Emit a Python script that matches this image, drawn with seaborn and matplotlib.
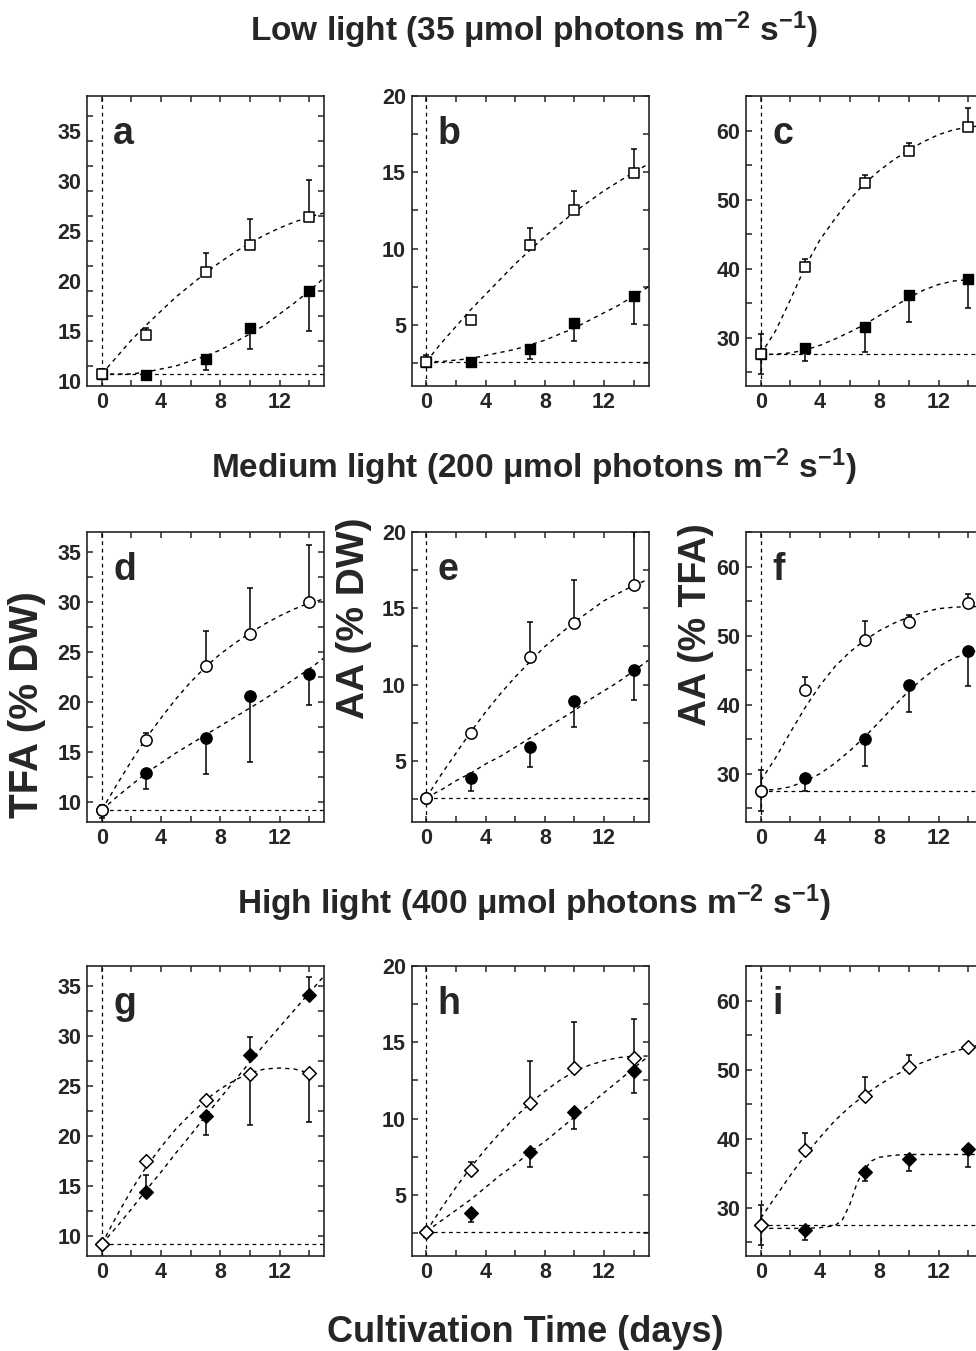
import numpy as np
import matplotlib
matplotlib.use('Agg')
import matplotlib.pyplot as plt
import matplotlib.transforms as mtransforms
from matplotlib.ticker import MultipleLocator
import seaborn as sns

# sampling days
DAYS = [0, 3, 7, 10, 14]
FIT_DAYS = [0, 1, 2, 3, 4, 5, 6, 7, 8, 9, 10, 11, 12, 13, 14, 15]

# ---- low light (squares) ----
A_OPEN = [9.2, 13.1, 19.4, 22.1, 24.9]
A_OPEN_LO = [0.4, 0, 0, 0, 0]
A_OPEN_HI = [0.5, 0.7, 1.9, 2.6, 3.7]
A_FILL = [9.2, 9.1, 10.7, 13.8, 17.5]
A_FILL_LO = [0, 0, 1.1, 2.1, 4.0]
A_FILL_HI = [0, 0, 0, 0, 0]
A_OPEN_FIT = [9.2, 10.9, 12.6, 14.1, 15.5, 16.9, 18.1, 19.3, 20.4, 21.4, 22.3, 23.1, 23.8, 24.4, 24.9, 25.3]
A_FILL_FIT = [9.2, 9.2, 9.2, 9.4, 9.7, 10.0, 10.5, 11.0, 11.6, 12.4, 13.2, 14.1, 15.2, 16.3, 17.5, 18.8]

B_OPEN = [2.6, 5.35, 10.25, 12.55, 14.95]
B_OPEN_LO = [0.3, 0, 0, 0, 0]
B_OPEN_HI = [0.4, 0.25, 1.1, 1.25, 1.55]
B_FILL = [2.6, 2.6, 3.45, 5.1, 6.9]
B_FILL_LO = [0, 0, 0.7, 1.15, 1.85]
B_FILL_HI = [0, 0, 0, 0, 0]
B_OPEN_FIT = [2.6, 3.8, 4.9, 6.0, 7.0, 8.0, 9.0, 9.9, 10.8, 11.6, 12.4, 13.1, 13.8, 14.4, 15.0, 15.55]
B_FILL_FIT = [2.6, 2.6, 2.7, 2.8, 3.0, 3.2, 3.4, 3.7, 4.0, 4.4, 4.8, 5.3, 5.8, 6.3, 6.9, 7.5]

C_OPEN = [27.6, 40.3, 52.4, 57.1, 60.5]
C_OPEN_LO = [2.9, 0, 0, 0, 0]
C_OPEN_HI = [2.9, 1.15, 1.2, 1.05, 2.8]
C_FILL = [27.6, 28.55, 31.6, 36.25, 38.45]
C_FILL_LO = [0, 2.0, 3.7, 3.95, 4.1]
C_FILL_HI = [0, 0, 0, 0, 0]
C_OPEN_FIT = [27.6, 31.0, 35.5, 40.3, 44.2, 47.2, 50.0, 52.3, 54.2, 55.8, 57.2, 58.4, 59.4, 60.1, 60.5, 60.7]
C_FILL_FIT = [27.6, 27.6, 27.8, 28.2, 28.9, 29.8, 30.8, 31.9, 33.2, 34.5, 35.8, 36.9, 37.7, 38.2, 38.4, 38.5]

# ---- medium light (circles) ----
D_OPEN = [9.2, 16.2, 23.6, 26.8, 30.0]
D_OPEN_LO = [0.8, 0, 0, 0, 0]
D_OPEN_HI = [0.5, 0.7, 3.5, 4.55, 5.7]
D_FILL = [9.2, 12.85, 16.4, 20.6, 22.75]
D_FILL_LO = [0, 1.6, 3.6, 6.65, 3.1]
D_FILL_HI = [0, 0, 0, 0, 0]
D_OPEN_FIT = [9.2, 11.7, 14.1, 16.4, 18.4, 20.3, 22.0, 23.5, 24.8, 25.9, 26.9, 27.8, 28.6, 29.3, 29.9, 30.3]
D_FILL_FIT = [9.2, 10.5, 11.7, 12.9, 13.9, 14.9, 15.8, 16.7, 17.6, 18.5, 19.4, 20.3, 21.3, 22.3, 23.3, 24.4]

E_OPEN = [2.6, 6.8, 11.8, 14.05, 16.5]
E_OPEN_LO = [0.2, 0, 0, 0, 0]
E_OPEN_HI = [0.2, 0.15, 2.3, 2.8, 3.5]
E_FILL = [2.6, 3.85, 5.9, 8.95, 10.95]
E_FILL_LO = [0, 0.8, 1.3, 1.7, 1.95]
E_FILL_HI = [0, 0, 0, 0, 0]
E_OPEN_FIT = [2.6, 4.1, 5.5, 6.9, 8.2, 9.4, 10.5, 11.5, 12.5, 13.3, 14.1, 14.8, 15.5, 16.0, 16.5, 16.9]
E_FILL_FIT = [2.6, 3.1, 3.7, 4.2, 4.8, 5.3, 5.9, 6.5, 7.1, 7.7, 8.3, 9.0, 9.6, 10.2, 10.9, 11.6]

F_OPEN = [27.5, 42.05, 49.3, 51.95, 54.7]
F_OPEN_LO = [2.9, 0, 0, 0, 0]
F_OPEN_HI = [3.0, 1.95, 2.8, 1.0, 1.35]
F_FILL = [27.5, 29.35, 35.0, 42.8, 47.75]
F_FILL_LO = [0, 1.8, 3.9, 3.9, 5.05]
F_FILL_HI = [0, 0, 0, 0, 0]
F_OPEN_FIT = [29.0, 32.3, 36.0, 39.6, 42.8, 45.5, 47.6, 49.3, 50.7, 51.8, 52.7, 53.4, 53.9, 54.1, 54.2, 54.2]
F_FILL_FIT = [27.6, 27.7, 28.1, 28.9, 30.0, 31.5, 33.3, 35.3, 37.5, 39.8, 42.0, 43.9, 45.5, 46.7, 47.5, 48.0]

# ---- high light (diamonds) ----
G_OPEN = [9.2, 17.55, 23.6, 26.25, 26.3]
G_OPEN_LO = [0.3, 0, 0, 5.1, 4.85]
G_OPEN_HI = [0.3, 0, 0, 0, 0]
G_FILL = [9.2, 14.45, 22.05, 28.1, 34.15]
G_FILL_LO = [0, 0, 1.9, 0, 0]
G_FILL_HI = [0, 1.7, 0, 1.85, 1.75]
G_OPEN_FIT = [9.2, 12.0, 14.6, 16.9, 18.9, 20.7, 22.2, 23.6, 24.7, 25.6, 26.3, 26.7, 26.8, 26.7, 26.3, np.nan]
G_FILL_FIT = [9.2, 10.9, 12.7, 14.6, 16.4, 18.3, 20.1, 22.0, 23.8, 25.6, 27.4, 29.2, 30.9, 32.6, 34.3, 36.0]

H_OPEN = [2.55, 6.65, 11.0, 13.35, 14.0]
H_OPEN_LO = [0.3, 0, 0, 0, 0]
H_OPEN_HI = [0.3, 0.5, 2.75, 3.0, 2.5]
H_FILL = [2.55, 3.85, 7.8, 10.45, 13.15]
H_FILL_LO = [0, 0.6, 1.0, 1.15, 1.45]
H_FILL_HI = [0, 0, 0, 0, 0]
H_OPEN_FIT = [2.6, 4.1, 5.5, 6.8, 8.0, 9.1, 10.1, 11.0, 11.8, 12.5, 13.1, 13.5, 13.8, 14.0, 14.1, 14.1]
H_FILL_FIT = [2.6, 3.3, 4.0, 4.7, 5.5, 6.3, 7.0, 7.8, 8.5, 9.3, 10.1, 10.9, 11.7, 12.5, 13.3, 14.1]

I_OPEN = [27.5, 38.35, 46.2, 50.35, 53.25]
I_OPEN_LO = [2.9, 0, 0, 0, 0]
I_OPEN_HI = [2.9, 2.5, 2.7, 1.8, 0.3]
I_FILL = [27.5, 26.75, 35.2, 37.1, 38.45]
I_FILL_LO = [0, 1.5, 1.3, 1.85, 2.5]
I_FILL_HI = [0, 0, 0, 0, 0]
I_OPEN_FIT = [28.5, 31.6, 34.7, 37.6, 40.2, 42.6, 44.6, 46.3, 47.8, 49.1, 50.2, 51.1, 51.9, 52.6, 53.2, 53.7]
I_FILL_FIT_DAYS = [0, 1, 2, 3, 4, 5, 5.5, 6, 6.5, 7, 7.5, 8, 9, 10, 11, 12, 13, 14, 15]
I_FILL_FIT = [27.0, 27.0, 27.0, 27.0, 27.1, 27.4, 28.2, 30.4, 33.6, 35.6, 36.8, 37.3, 37.6, 37.7, 37.7, 37.7, 37.7, 37.7, 37.7]

# day-0 level (horizontal reference line)
BASE = {'a': 9.2, 'b': 2.6, 'c': 27.6, 'd': 9.2, 'e': 2.6, 'f': 27.5, 'g': 9.2, 'h': 2.6, 'i': 27.5}

sns.set_style('ticks')
plt.rcParams['font.family'] = ['Liberation Sans', 'DejaVu Sans']
plt.rcParams['font.weight'] = 'bold'
plt.rcParams['mathtext.default'] = 'regular'
plt.rcParams['axes.linewidth'] = 1.2

W, H = 976, 1351
fig = plt.figure(figsize=(W / 100, H / 100), dpi=100)

def add_ax(left, top, w=237, h=290):
    return fig.add_axes([left / W, 1 - (top + h) / H, w / W, h / H])

dash = (0, (3, 3))

def panel(ax, letter, marker, msize, opn, opn_lo, opn_hi, fil, fil_lo, fil_hi,
          open_fit, fill_fit, ylim, major, minor, fill_fit_x=FIT_DAYS):
    ax.axvline(0, color='k', lw=0.9, linestyle=dash, zorder=1)
    ax.axhline(BASE[letter], xmin=1 / 16, color='k', lw=0.9, linestyle=dash, zorder=1)
    sns.lineplot(x=FIT_DAYS, y=open_fit, ax=ax, color='k', lw=1.0, linestyle=dash, zorder=2)
    sns.lineplot(x=fill_fit_x, y=fill_fit, ax=ax, color='k', lw=1.0, linestyle=dash, zorder=2)
    ax.errorbar(DAYS, fil, yerr=[fil_lo, fil_hi], fmt='none', ecolor='k',
                elinewidth=1.1, capsize=2.5, capthick=1.1, zorder=3)
    ax.errorbar(DAYS, opn, yerr=[opn_lo, opn_hi], fmt='none', ecolor='k',
                elinewidth=1.1, capsize=2.5, capthick=1.1, zorder=3)
    sns.scatterplot(x=DAYS, y=fil, ax=ax, marker=marker, s=msize, color='k',
                    edgecolor='k', linewidth=1.0, zorder=4)
    sns.scatterplot(x=DAYS, y=opn, ax=ax, marker=marker, s=msize, color='white',
                    edgecolor='k', linewidth=1.1, zorder=5)
    ax.set_xlim(-1, 15)
    ax.set_ylim(*ylim)
    ax.xaxis.set_major_locator(MultipleLocator(4))
    ax.xaxis.set_minor_locator(MultipleLocator(2))
    ax.yaxis.set_major_locator(MultipleLocator(major))
    ax.yaxis.set_minor_locator(MultipleLocator(minor))
    ax.tick_params(which='both', direction='in', top=True, right=True,
                   length=4, width=1.1, labelsize=15.5, pad=4)
    ax.set_xlabel('')
    ax.set_ylabel('')
    ax.text(0.11, 0.834, letter, transform=ax.transAxes, fontsize=27,
            fontweight='bold', ha='left', va='baseline')

cols = [87, 411.5, 746]
rows = [96, 532, 966]

ax = add_ax(cols[0], rows[0])
panel(ax, 'a', 's', 58, A_OPEN, A_OPEN_LO, A_OPEN_HI, A_FILL, A_FILL_LO, A_FILL_HI,
      A_OPEN_FIT, A_FILL_FIT, (8, 37), 5, 2.5)
# tick labels of this panel sit lower than their ticks in the original
shift = mtransforms.ScaledTranslation(0, -0.15, fig.dpi_scale_trans)
for lab in ax.get_yticklabels():
    lab.set_transform(lab.get_transform() + shift)

ax = add_ax(cols[1], rows[0])
panel(ax, 'b', 's', 58, B_OPEN, B_OPEN_LO, B_OPEN_HI, B_FILL, B_FILL_LO, B_FILL_HI,
      B_OPEN_FIT, B_FILL_FIT, (1, 20), 5, 2.5)
ax = add_ax(cols[2], rows[0])
panel(ax, 'c', 's', 58, C_OPEN, C_OPEN_LO, C_OPEN_HI, C_FILL, C_FILL_LO, C_FILL_HI,
      C_OPEN_FIT, C_FILL_FIT, (23, 65), 10, 5)

ax = add_ax(cols[0], rows[1])
panel(ax, 'd', 'o', 66, D_OPEN, D_OPEN_LO, D_OPEN_HI, D_FILL, D_FILL_LO, D_FILL_HI,
      D_OPEN_FIT, D_FILL_FIT, (8, 37), 5, 2.5)
ax = add_ax(cols[1], rows[1])
panel(ax, 'e', 'o', 66, E_OPEN, E_OPEN_LO, E_OPEN_HI, E_FILL, E_FILL_LO, E_FILL_HI,
      E_OPEN_FIT, E_FILL_FIT, (1, 20), 5, 2.5)
ax = add_ax(cols[2], rows[1])
panel(ax, 'f', 'o', 66, F_OPEN, F_OPEN_LO, F_OPEN_HI, F_FILL, F_FILL_LO, F_FILL_HI,
      F_OPEN_FIT, F_FILL_FIT, (23, 65), 10, 5)

ax = add_ax(cols[0], rows[2])
panel(ax, 'g', 'D', 48, G_OPEN, G_OPEN_LO, G_OPEN_HI, G_FILL, G_FILL_LO, G_FILL_HI,
      G_OPEN_FIT, G_FILL_FIT, (8, 37), 5, 2.5)
ax = add_ax(cols[1], rows[2])
panel(ax, 'h', 'D', 48, H_OPEN, H_OPEN_LO, H_OPEN_HI, H_FILL, H_FILL_LO, H_FILL_HI,
      H_OPEN_FIT, H_FILL_FIT, (1, 20), 5, 2.5)
ax = add_ax(cols[2], rows[2])
panel(ax, 'i', 'D', 48, I_OPEN, I_OPEN_LO, I_OPEN_HI, I_FILL, I_FILL_LO, I_FILL_HI,
      I_OPEN_FIT, I_FILL_FIT, (23, 65), 10, 5, fill_fit_x=I_FILL_FIT_DAYS)

# row headings and shared labels
fig.text(534 / W, 1 - 30 / H, 'Low light (35 \u03bcmol photons m$^{-2}$ s$^{-1}$)',
         ha='center', va='center', fontsize=24, fontweight='bold')
fig.text(534 / W, 1 - 467 / H, 'Medium light (200 \u03bcmol photons m$^{-2}$ s$^{-1}$)',
         ha='center', va='center', fontsize=24, fontweight='bold')
fig.text(534 / W, 1 - 903 / H, 'High light (400 \u03bcmol photons m$^{-2}$ s$^{-1}$)',
         ha='center', va='center', fontsize=24, fontweight='bold')
fig.text(525 / W, 1 - 1333 / H, 'Cultivation Time (days)',
         ha='center', va='center', fontsize=26, fontweight='bold')

fig.text(27 / W, 1 - 705 / H, 'TFA (% DW)', rotation=90, ha='center', va='center',
         fontsize=29, fontweight='bold')
fig.text(354 / W, 1 - 618 / H, 'AA (% DW)', rotation=90, ha='center', va='center',
         fontsize=28, fontweight='bold')
fig.text(696 / W, 1 - 625 / H, 'AA (% TFA)', rotation=90, ha='center', va='center',
         fontsize=27, fontweight='bold')

fig.savefig('out.png', dpi=100)
